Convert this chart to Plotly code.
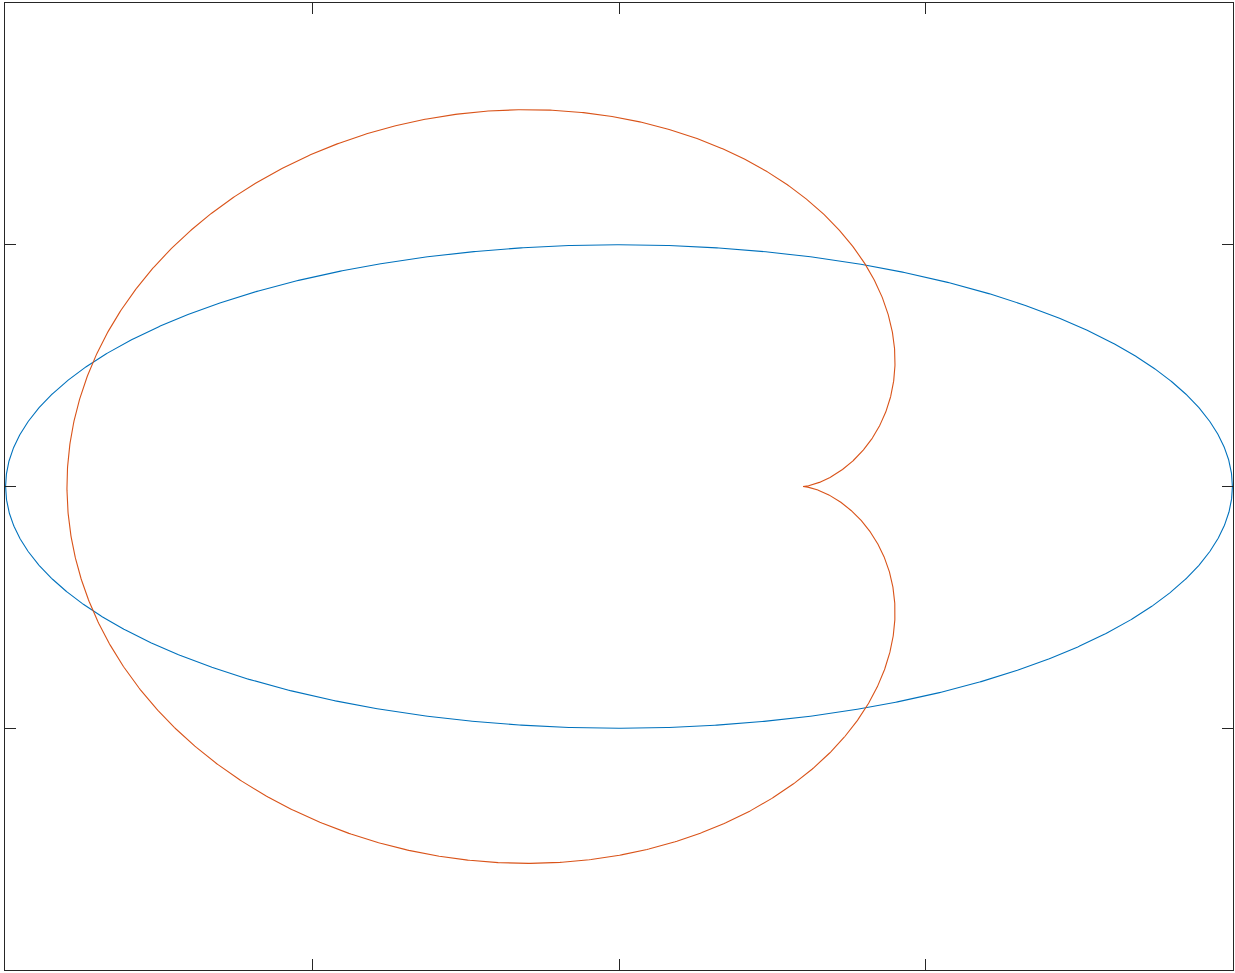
import numpy as np
import plotly.graph_objects as go

# Curve parameters
ellipse_semi_x = 2.0
ellipse_semi_y = 1.0
cardioid_a = 1.2
cardioid_cusp_x = 0.6
x_range = [-2.002, 2.002]
y_range = [-2.0, 2.0]
tick_vals = [-1, 0, 1]

t = np.linspace(0, 2 * np.pi, 2001)
ex = ellipse_semi_x * np.cos(t)
ey = ellipse_semi_y * np.sin(t)

r = cardioid_a * (1 - np.cos(t))
cx = cardioid_cusp_x + r * np.cos(t)
cy = r * np.sin(t)

fig = go.Figure()
fig.add_trace(go.Scatter(x=ex, y=ey, mode="lines", line=dict(color="#0072BD", width=1.1), showlegend=False))
fig.add_trace(go.Scatter(x=cx, y=cy, mode="lines", line=dict(color="#D95319", width=1.1), showlegend=False))

axis_common = dict(showgrid=False, zeroline=False, showline=True, mirror="ticks",
                   linecolor="#262626", linewidth=1, ticks="inside", ticklen=11,
                   tickcolor="#262626", tickwidth=1, showticklabels=False, tickvals=tick_vals)
fig.update_xaxes(range=x_range, **axis_common)
fig.update_yaxes(range=y_range, **axis_common)
fig.update_layout(width=1235, height=973, margin=dict(l=5, r=2, t=3, b=3),
                  paper_bgcolor="white", plot_bgcolor="white")
fig.write_html("out.html", config={"displayModeBar": False},
               post_script="document.body.style.margin='0';document.body.style.overflow='hidden';")
